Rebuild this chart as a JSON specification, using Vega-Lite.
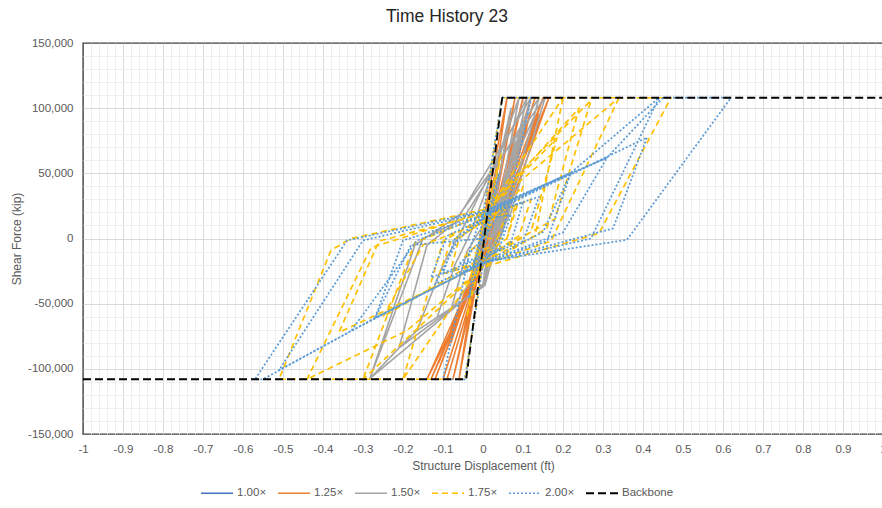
{
  "$schema": "https://vega.github.io/schema/vega-lite/v6.json",
  "width": 800,
  "height": 391,
  "autosize": {"type": "none"},
  "padding": {"left": 83, "top": 43, "right": 0, "bottom": 74},
  "background": "white",
  "title": {
    "text": "Time History 23",
    "font": "Liberation Sans",
    "fontSize": 17.5,
    "fontWeight": "normal",
    "color": "#262626",
    "anchor": "middle",
    "dx": -36,
    "offset": 12
  },
  "config": {
    "font": "Liberation Sans",
    "view": {"stroke": "#404040", "strokeWidth": 1.4}
  },
  "data": {
    "values": [
      {"series": "1.00×", "t": 0, "disp": 0, "force": 0},
      {"series": "1.00×", "t": 1, "disp": 0.01, "force": 12000},
      {"series": "1.00×", "t": 2, "disp": -0.005, "force": -6000},
      {"series": "1.00×", "t": 3, "disp": 0.015, "force": 18000},
      {"series": "1.00×", "t": 4, "disp": -0.01, "force": -14000},
      {"series": "1.00×", "t": 5, "disp": 0.02, "force": 22000},
      {"series": "1.00×", "t": 6, "disp": 0.004, "force": 1000},
      {"series": "1.00×", "t": 7, "disp": -0.015, "force": -20000},
      {"series": "1.00×", "t": 8, "disp": 0, "force": 2000},
      {"series": "1.00×", "t": 9, "disp": 0.012, "force": 15000},
      {"series": "1.00×", "t": 10, "disp": -0.008, "force": -10000},
      {"series": "1.00×", "t": 11, "disp": 0, "force": 0},

      {"series": "1.25×", "t": 0, "disp": 0, "force": 0},
      {"series": "1.25×", "t": 1, "disp": 0.02, "force": 25000},
      {"series": "1.25×", "t": 2, "disp": 0.005, "force": 0},
      {"series": "1.25×", "t": 3, "disp": -0.02, "force": -30000},
      {"series": "1.25×", "t": 4, "disp": -0.005, "force": 2000},
      {"series": "1.25×", "t": 5, "disp": 0.045, "force": 70000},
      {"series": "1.25×", "t": 6, "disp": 0.01, "force": 5000},
      {"series": "1.25×", "t": 7, "disp": -0.04, "force": -65000},
      {"series": "1.25×", "t": 8, "disp": -0.01, "force": -4000},
      {"series": "1.25×", "t": 9, "disp": 0.06, "force": 108000},
      {"series": "1.25×", "t": 10, "disp": 0.015, "force": 12000},
      {"series": "1.25×", "t": 11, "disp": -0.005, "force": -15000},
      {"series": "1.25×", "t": 12, "disp": -0.06, "force": -108000},
      {"series": "1.25×", "t": 13, "disp": -0.01, "force": -10000},
      {"series": "1.25×", "t": 14, "disp": 0.02, "force": 18000},
      {"series": "1.25×", "t": 15, "disp": 0.08, "force": 108000},
      {"series": "1.25×", "t": 16, "disp": 0.02, "force": 8000},
      {"series": "1.25×", "t": 17, "disp": -0.01, "force": -18000},
      {"series": "1.25×", "t": 18, "disp": -0.075, "force": -108000},
      {"series": "1.25×", "t": 19, "disp": 0, "force": -12000},
      {"series": "1.25×", "t": 20, "disp": 0.025, "force": 15000},
      {"series": "1.25×", "t": 21, "disp": 0.1, "force": 108000},
      {"series": "1.25×", "t": 22, "disp": 0.03, "force": 10000},
      {"series": "1.25×", "t": 23, "disp": -0.005, "force": -20000},
      {"series": "1.25×", "t": 24, "disp": -0.09, "force": -108000},
      {"series": "1.25×", "t": 25, "disp": -0.005, "force": -20000},
      {"series": "1.25×", "t": 26, "disp": 0.03, "force": 18000},
      {"series": "1.25×", "t": 27, "disp": 0.12, "force": 108000},
      {"series": "1.25×", "t": 28, "disp": 0.035, "force": 8000},
      {"series": "1.25×", "t": 29, "disp": -0.01, "force": -22000},
      {"series": "1.25×", "t": 30, "disp": -0.1, "force": -108000},
      {"series": "1.25×", "t": 31, "disp": -0.01, "force": -22000},
      {"series": "1.25×", "t": 32, "disp": 0.04, "force": 20000},
      {"series": "1.25×", "t": 33, "disp": 0.13, "force": 108000},
      {"series": "1.25×", "t": 34, "disp": 0.03, "force": 2000},
      {"series": "1.25×", "t": 35, "disp": 0, "force": -15000},
      {"series": "1.25×", "t": 36, "disp": -0.12, "force": -108000},
      {"series": "1.25×", "t": 37, "disp": -0.015, "force": -24000},
      {"series": "1.25×", "t": 38, "disp": 0.035, "force": 15000},
      {"series": "1.25×", "t": 39, "disp": 0.15, "force": 108000},
      {"series": "1.25×", "t": 40, "disp": 0.04, "force": 6000},
      {"series": "1.25×", "t": 41, "disp": 0, "force": -18000},
      {"series": "1.25×", "t": 42, "disp": -0.13, "force": -108000},
      {"series": "1.25×", "t": 43, "disp": -0.01, "force": -20000},
      {"series": "1.25×", "t": 44, "disp": 0.05, "force": 22000},
      {"series": "1.25×", "t": 45, "disp": 0.165, "force": 108000},
      {"series": "1.25×", "t": 46, "disp": 0.05, "force": 10000},
      {"series": "1.25×", "t": 47, "disp": 0.01, "force": -15000},
      {"series": "1.25×", "t": 48, "disp": -0.14, "force": -108000},
      {"series": "1.25×", "t": 49, "disp": -0.015, "force": -22000},
      {"series": "1.25×", "t": 50, "disp": 0.045, "force": 18000},
      {"series": "1.25×", "t": 51, "disp": 0.14, "force": 95000},
      {"series": "1.25×", "t": 52, "disp": 0.04, "force": 5000},
      {"series": "1.25×", "t": 53, "disp": -0.01, "force": -20000},
      {"series": "1.25×", "t": 54, "disp": -0.11, "force": -95000},
      {"series": "1.25×", "t": 55, "disp": -0.02, "force": -20000},
      {"series": "1.25×", "t": 56, "disp": 0.03, "force": 12000},
      {"series": "1.25×", "t": 57, "disp": 0.11, "force": 85000},
      {"series": "1.25×", "t": 58, "disp": 0.03, "force": 3000},
      {"series": "1.25×", "t": 59, "disp": -0.02, "force": -25000},
      {"series": "1.25×", "t": 60, "disp": -0.08, "force": -80000},
      {"series": "1.25×", "t": 61, "disp": -0.01, "force": -10000},
      {"series": "1.25×", "t": 62, "disp": 0, "force": 0},

      {"series": "1.50×", "t": 0, "disp": 0, "force": 0},
      {"series": "1.50×", "t": 1, "disp": 0.03, "force": 35000},
      {"series": "1.50×", "t": 2, "disp": 0.01, "force": 0},
      {"series": "1.50×", "t": 3, "disp": -0.02, "force": -25000},
      {"series": "1.50×", "t": 4, "disp": 0, "force": 5000},
      {"series": "1.50×", "t": 5, "disp": 0.07, "force": 100000},
      {"series": "1.50×", "t": 6, "disp": 0.02, "force": 8000},
      {"series": "1.50×", "t": 7, "disp": 0, "force": -35000},
      {"series": "1.50×", "t": 8, "disp": -0.05, "force": -47600},
      {"series": "1.50×", "t": 9, "disp": -0.115, "force": -60600},
      {"series": "1.50×", "t": 10, "disp": -0.07, "force": -20000},
      {"series": "1.50×", "t": 11, "disp": -0.03, "force": 5000},
      {"series": "1.50×", "t": 12, "disp": 0.09, "force": 108000},
      {"series": "1.50×", "t": 13, "disp": 0.03, "force": 10000},
      {"series": "1.50×", "t": 14, "disp": 0, "force": -36000},
      {"series": "1.50×", "t": 15, "disp": -0.05, "force": -47600},
      {"series": "1.50×", "t": 16, "disp": -0.115, "force": -60600},
      {"series": "1.50×", "t": 17, "disp": -0.165, "force": -70600},
      {"series": "1.50×", "t": 18, "disp": -0.1, "force": -20000},
      {"series": "1.50×", "t": 19, "disp": -0.05, "force": 8000},
      {"series": "1.50×", "t": 20, "disp": 0.11, "force": 108000},
      {"series": "1.50×", "t": 21, "disp": 0.04, "force": 12000},
      {"series": "1.50×", "t": 22, "disp": 0, "force": -37000},
      {"series": "1.50×", "t": 23, "disp": -0.05, "force": -47600},
      {"series": "1.50×", "t": 24, "disp": -0.165, "force": -70600},
      {"series": "1.50×", "t": 25, "disp": -0.21, "force": -84000},
      {"series": "1.50×", "t": 26, "disp": -0.14, "force": -5000},
      {"series": "1.50×", "t": 27, "disp": -0.07, "force": 12000},
      {"series": "1.50×", "t": 28, "disp": 0.12, "force": 108000},
      {"series": "1.50×", "t": 29, "disp": 0.05, "force": 15000},
      {"series": "1.50×", "t": 30, "disp": 0.005, "force": -36000},
      {"series": "1.50×", "t": 31, "disp": -0.05, "force": -47600},
      {"series": "1.50×", "t": 32, "disp": -0.21, "force": -84000},
      {"series": "1.50×", "t": 33, "disp": -0.283, "force": -107500},
      {"series": "1.50×", "t": 34, "disp": -0.15, "force": 0},
      {"series": "1.50×", "t": 35, "disp": -0.05, "force": 15000},
      {"series": "1.50×", "t": 36, "disp": 0.14, "force": 108000},
      {"series": "1.50×", "t": 37, "disp": 0.06, "force": 15000},
      {"series": "1.50×", "t": 38, "disp": 0, "force": -37000},
      {"series": "1.50×", "t": 39, "disp": -0.05, "force": -47600},
      {"series": "1.50×", "t": 40, "disp": -0.283, "force": -107500},
      {"series": "1.50×", "t": 41, "disp": -0.17, "force": -5000},
      {"series": "1.50×", "t": 42, "disp": -0.06, "force": 18000},
      {"series": "1.50×", "t": 43, "disp": 0.155, "force": 108000},
      {"series": "1.50×", "t": 44, "disp": 0.07, "force": 20000},
      {"series": "1.50×", "t": 45, "disp": 0.02, "force": -10000},
      {"series": "1.50×", "t": 46, "disp": -0.08, "force": -55000},
      {"series": "1.50×", "t": 47, "disp": -0.04, "force": -10000},
      {"series": "1.50×", "t": 48, "disp": 0.02, "force": 20000},
      {"series": "1.50×", "t": 49, "disp": 0.13, "force": 95000},
      {"series": "1.50×", "t": 50, "disp": 0.05, "force": 10000},
      {"series": "1.50×", "t": 51, "disp": 0, "force": -20000},
      {"series": "1.50×", "t": 52, "disp": -0.03, "force": -30000},
      {"series": "1.50×", "t": 53, "disp": 0, "force": 0},
      {"series": "1.50×", "t": 54, "disp": 0.04, "force": 30000},
      {"series": "1.50×", "t": 55, "disp": 0.1, "force": 90000},
      {"series": "1.50×", "t": 56, "disp": 0.03, "force": 5000},
      {"series": "1.50×", "t": 57, "disp": 0.08, "force": 75000},
      {"series": "1.50×", "t": 58, "disp": 0.02, "force": 0},
      {"series": "1.50×", "t": 59, "disp": 0.12, "force": 108000},
      {"series": "1.50×", "t": 60, "disp": 0.04, "force": 8000},
      {"series": "1.50×", "t": 61, "disp": -0.02, "force": -20000},
      {"series": "1.50×", "t": 62, "disp": 0, "force": 0},

      {"series": "1.75×", "t": 0, "disp": 0, "force": 0},
      {"series": "1.75×", "t": 1, "disp": 0.03, "force": 28000},
      {"series": "1.75×", "t": 2, "disp": 0, "force": -5000},
      {"series": "1.75×", "t": 3, "disp": -0.03, "force": -28000},
      {"series": "1.75×", "t": 4, "disp": -0.005, "force": 4000},
      {"series": "1.75×", "t": 5, "disp": 0.045, "force": 65000},
      {"series": "1.75×", "t": 6, "disp": 0.01, "force": 6000},
      {"series": "1.75×", "t": 7, "disp": -0.04, "force": -60000},
      {"series": "1.75×", "t": 8, "disp": -0.01, "force": -4000},
      {"series": "1.75×", "t": 9, "disp": 0.048, "force": 108000},
      {"series": "1.75×", "t": 10, "disp": 0.2, "force": 108000},
      {"series": "1.75×", "t": 11, "disp": 0.13, "force": 2000},
      {"series": "1.75×", "t": 12, "disp": 0, "force": -18000},
      {"series": "1.75×", "t": 13, "disp": -0.045, "force": -108000},
      {"series": "1.75×", "t": 14, "disp": -0.2, "force": -108000},
      {"series": "1.75×", "t": 15, "disp": -0.1, "force": -2000},
      {"series": "1.75×", "t": 16, "disp": 0, "force": 16000},
      {"series": "1.75×", "t": 17, "disp": 0.2, "force": 108000},
      {"series": "1.75×", "t": 18, "disp": 0.34, "force": 108000},
      {"series": "1.75×", "t": 19, "disp": 0.17, "force": -2000},
      {"series": "1.75×", "t": 20, "disp": 0, "force": -20000},
      {"series": "1.75×", "t": 21, "disp": -0.36, "force": -72000},
      {"series": "1.75×", "t": 22, "disp": -0.26, "force": -2000},
      {"series": "1.75×", "t": 23, "disp": 0, "force": 19000},
      {"series": "1.75×", "t": 24, "disp": 0.185, "force": 77000},
      {"series": "1.75×", "t": 25, "disp": 0.12, "force": 5000},
      {"series": "1.75×", "t": 26, "disp": 0, "force": -18000},
      {"series": "1.75×", "t": 27, "disp": -0.2, "force": -108000},
      {"series": "1.75×", "t": 28, "disp": -0.3, "force": -108000},
      {"series": "1.75×", "t": 29, "disp": -0.17, "force": -3000},
      {"series": "1.75×", "t": 30, "disp": 0, "force": 18000},
      {"series": "1.75×", "t": 31, "disp": 0.24, "force": 100000},
      {"series": "1.75×", "t": 32, "disp": 0.16, "force": 8000},
      {"series": "1.75×", "t": 33, "disp": 0, "force": -22000},
      {"series": "1.75×", "t": 34, "disp": -0.3, "force": -108000},
      {"series": "1.75×", "t": 35, "disp": -0.44, "force": -108000},
      {"series": "1.75×", "t": 36, "disp": -0.28, "force": -7000},
      {"series": "1.75×", "t": 37, "disp": 0, "force": 20000},
      {"series": "1.75×", "t": 38, "disp": 0.34, "force": 108000},
      {"series": "1.75×", "t": 39, "disp": 0.47, "force": 108000},
      {"series": "1.75×", "t": 40, "disp": 0.29, "force": 4000},
      {"series": "1.75×", "t": 41, "disp": 0, "force": -22000},
      {"series": "1.75×", "t": 42, "disp": -0.19, "force": -70600},
      {"series": "1.75×", "t": 43, "disp": -0.44, "force": -108000},
      {"series": "1.75×", "t": 44, "disp": -0.51, "force": -108000},
      {"series": "1.75×", "t": 45, "disp": -0.38, "force": -9000},
      {"series": "1.75×", "t": 46, "disp": -0.33, "force": 0},
      {"series": "1.75×", "t": 47, "disp": 0, "force": 22000},
      {"series": "1.75×", "t": 48, "disp": 0.27, "force": 106000},
      {"series": "1.75×", "t": 49, "disp": 0.18, "force": 15000},
      {"series": "1.75×", "t": 50, "disp": 0, "force": -15000},
      {"series": "1.75×", "t": 51, "disp": -0.25, "force": -60000},
      {"series": "1.75×", "t": 52, "disp": -0.15, "force": -5000},
      {"series": "1.75×", "t": 53, "disp": 0.02, "force": 15000},
      {"series": "1.75×", "t": 54, "disp": 0.1, "force": 40000},
      {"series": "1.75×", "t": 55, "disp": 0.06, "force": 0},
      {"series": "1.75×", "t": 56, "disp": 0, "force": 0},
      {"series": "1.75×", "t": 57, "disp": 0.04, "force": 22000},
      {"series": "1.75×", "t": 58, "disp": 0.08, "force": 25000},
      {"series": "1.75×", "t": 59, "disp": 0.06, "force": 0},
      {"series": "1.75×", "t": 60, "disp": -0.03, "force": -20000},
      {"series": "1.75×", "t": 61, "disp": -0.08, "force": -24000},
      {"series": "1.75×", "t": 62, "disp": -0.06, "force": 0},
      {"series": "1.75×", "t": 63, "disp": 0.02, "force": 18000},
      {"series": "1.75×", "t": 64, "disp": 0.12, "force": 30000},
      {"series": "1.75×", "t": 65, "disp": 0.09, "force": 2000},
      {"series": "1.75×", "t": 66, "disp": -0.02, "force": -20000},
      {"series": "1.75×", "t": 67, "disp": -0.11, "force": -28000},
      {"series": "1.75×", "t": 68, "disp": -0.08, "force": -2000},
      {"series": "1.75×", "t": 69, "disp": 0, "force": 12000},
      {"series": "1.75×", "t": 70, "disp": 0.06, "force": 20000},
      {"series": "1.75×", "t": 71, "disp": 0.03, "force": -5000},
      {"series": "1.75×", "t": 72, "disp": -0.05, "force": -15000},
      {"series": "1.75×", "t": 73, "disp": 0, "force": 0},

      {"series": "2.00×", "t": 0, "disp": 0, "force": 0},
      {"series": "2.00×", "t": 1, "disp": 0.02, "force": 20000},
      {"series": "2.00×", "t": 2, "disp": -0.005, "force": -3000},
      {"series": "2.00×", "t": 3, "disp": -0.025, "force": -22000},
      {"series": "2.00×", "t": 4, "disp": 0, "force": 5000},
      {"series": "2.00×", "t": 5, "disp": 0.04, "force": 50000},
      {"series": "2.00×", "t": 6, "disp": 0.01, "force": 2000},
      {"series": "2.00×", "t": 7, "disp": -0.035, "force": -45000},
      {"series": "2.00×", "t": 8, "disp": -0.01, "force": -2000},
      {"series": "2.00×", "t": 9, "disp": 0.048, "force": 108000},
      {"series": "2.00×", "t": 10, "disp": 0.12, "force": 108000},
      {"series": "2.00×", "t": 11, "disp": 0.05, "force": 5000},
      {"series": "2.00×", "t": 12, "disp": 0, "force": -20000},
      {"series": "2.00×", "t": 13, "disp": -0.045, "force": -108000},
      {"series": "2.00×", "t": 14, "disp": -0.1, "force": -108000},
      {"series": "2.00×", "t": 15, "disp": -0.03, "force": -5000},
      {"series": "2.00×", "t": 16, "disp": 0, "force": 19000},
      {"series": "2.00×", "t": 17, "disp": 0.22, "force": 50500},
      {"series": "2.00×", "t": 18, "disp": 0.16, "force": -2000},
      {"series": "2.00×", "t": 19, "disp": 0, "force": -19000},
      {"series": "2.00×", "t": 20, "disp": -0.27, "force": -61000},
      {"series": "2.00×", "t": 21, "disp": -0.2, "force": -1500},
      {"series": "2.00×", "t": 22, "disp": 0, "force": 18000},
      {"series": "2.00×", "t": 23, "disp": 0.31, "force": 62000},
      {"series": "2.00×", "t": 24, "disp": 0.2, "force": 4600},
      {"series": "2.00×", "t": 25, "disp": 0, "force": -18600},
      {"series": "2.00×", "t": 26, "disp": -0.33, "force": -71000},
      {"series": "2.00×", "t": 27, "disp": -0.165, "force": -1500},
      {"series": "2.00×", "t": 28, "disp": 0, "force": 17000},
      {"series": "2.00×", "t": 29, "disp": 0.41, "force": 77500},
      {"series": "2.00×", "t": 30, "disp": 0.325, "force": 7700},
      {"series": "2.00×", "t": 31, "disp": 0, "force": -19000},
      {"series": "2.00×", "t": 32, "disp": -0.27, "force": -61000},
      {"series": "2.00×", "t": 33, "disp": -0.51, "force": -101000},
      {"series": "2.00×", "t": 34, "disp": -0.3, "force": -1500},
      {"series": "2.00×", "t": 35, "disp": 0, "force": 20000},
      {"series": "2.00×", "t": 36, "disp": 0.22, "force": 50500},
      {"series": "2.00×", "t": 37, "disp": 0.44, "force": 108000},
      {"series": "2.00×", "t": 38, "disp": 0.27, "force": 0},
      {"series": "2.00×", "t": 39, "disp": 0, "force": -19000},
      {"series": "2.00×", "t": 40, "disp": -0.27, "force": -61000},
      {"series": "2.00×", "t": 41, "disp": -0.55, "force": -108000},
      {"series": "2.00×", "t": 42, "disp": -0.57, "force": -108000},
      {"series": "2.00×", "t": 43, "disp": -0.34, "force": -1500},
      {"series": "2.00×", "t": 44, "disp": 0, "force": 21000},
      {"series": "2.00×", "t": 45, "disp": 0.31, "force": 62000},
      {"series": "2.00×", "t": 46, "disp": 0.45, "force": 108000},
      {"series": "2.00×", "t": 47, "disp": 0.62, "force": 108000},
      {"series": "2.00×", "t": 48, "disp": 0.36, "force": -1000},
      {"series": "2.00×", "t": 49, "disp": 0, "force": -18000},
      {"series": "2.00×", "t": 50, "disp": -0.12, "force": -35000},
      {"series": "2.00×", "t": 51, "disp": -0.06, "force": 0},
      {"series": "2.00×", "t": 52, "disp": 0.02, "force": 20000},
      {"series": "2.00×", "t": 53, "disp": 0.22, "force": 50500},
      {"series": "2.00×", "t": 54, "disp": 0.15, "force": 5000},
      {"series": "2.00×", "t": 55, "disp": 0, "force": -19000},
      {"series": "2.00×", "t": 56, "disp": -0.27, "force": -61000},
      {"series": "2.00×", "t": 57, "disp": -0.18, "force": -5000},
      {"series": "2.00×", "t": 58, "disp": 0, "force": 0},
      {"series": "2.00×", "t": 59, "disp": 0.05, "force": 22000},
      {"series": "2.00×", "t": 60, "disp": 0.1, "force": 28000},
      {"series": "2.00×", "t": 61, "disp": 0.07, "force": -3000},
      {"series": "2.00×", "t": 62, "disp": -0.02, "force": -20000},
      {"series": "2.00×", "t": 63, "disp": -0.1, "force": -27000},
      {"series": "2.00×", "t": 64, "disp": -0.07, "force": 0},
      {"series": "2.00×", "t": 65, "disp": 0.02, "force": 20000},
      {"series": "2.00×", "t": 66, "disp": 0.14, "force": 32000},
      {"series": "2.00×", "t": 67, "disp": 0.1, "force": -2000},
      {"series": "2.00×", "t": 68, "disp": -0.03, "force": -18000},
      {"series": "2.00×", "t": 69, "disp": -0.13, "force": -30000},
      {"series": "2.00×", "t": 70, "disp": -0.09, "force": 2000},
      {"series": "2.00×", "t": 71, "disp": 0, "force": 15000},
      {"series": "2.00×", "t": 72, "disp": 0.07, "force": 18000},
      {"series": "2.00×", "t": 73, "disp": 0.04, "force": -8000},
      {"series": "2.00×", "t": 74, "disp": -0.06, "force": -20000},
      {"series": "2.00×", "t": 75, "disp": 0, "force": 0},

      {"series": "Backbone", "t": 0, "disp": -1, "force": -108000},
      {"series": "Backbone", "t": 1, "disp": -0.042, "force": -108000},
      {"series": "Backbone", "t": 2, "disp": 0.048, "force": 108000},
      {"series": "Backbone", "t": 3, "disp": 1, "force": 108000}
    ]
  },
  "mark": {"type": "line", "clip": true, "strokeJoin": "round"},
  "encoding": {
    "x": {
      "field": "disp",
      "type": "quantitative",
      "scale": {"domain": [-1, 1], "nice": false, "zero": false},
      "axis": {
        "title": "Structure Displacement (ft)",
        "values": [-1, -0.98, -0.96, -0.94, -0.92, -0.9, -0.88, -0.86, -0.84, -0.82, -0.8, -0.78, -0.76, -0.74, -0.72, -0.7, -0.68, -0.66, -0.64, -0.62, -0.6, -0.58, -0.56, -0.54, -0.52, -0.5, -0.48, -0.46, -0.44, -0.42, -0.4, -0.38, -0.36, -0.34, -0.32, -0.3, -0.28, -0.26, -0.24, -0.22, -0.2, -0.18, -0.16, -0.14, -0.12, -0.1, -0.08, -0.06, -0.04, -0.02, 0, 0.02, 0.04, 0.06, 0.08, 0.1, 0.12, 0.14, 0.16, 0.18, 0.2, 0.22, 0.24, 0.26, 0.28, 0.3, 0.32, 0.34, 0.36, 0.38, 0.4, 0.42, 0.44, 0.46, 0.48, 0.5, 0.52, 0.54, 0.56, 0.58, 0.6, 0.62, 0.64, 0.66, 0.68, 0.7, 0.72, 0.74, 0.76, 0.78, 0.8, 0.82, 0.84, 0.86, 0.88, 0.9, 0.92, 0.94, 0.96, 0.98, 1],
        "labelExpr": "abs(datum.value * 10 - round(datum.value * 10)) < 0.001 ? replace(format(datum.value, '.1~f'), '\u2212', '-') : ''",
        "gridColor": {"condition": {"test": "abs(datum.value * 10 - round(datum.value * 10)) < 0.001", "value": "#d9d9d9"}, "value": "#efefef"},
        "gridOpacity": {"condition": {"test": "abs(datum.value) > 0.999", "value": 0}, "value": 1},
        "gridWidth": 1,
        "ticks": false,
        "domain": false,
        "labelFlush": false,
        "labelOverlap": false,
        "labelPadding": 9,
        "labelFontSize": 11.5,
        "labelColor": "#595959",
        "titleFontSize": 12,
        "titleFontWeight": "normal",
        "titleColor": "#595959",
        "titlePadding": 6
      }
    },
    "y": {
      "field": "force",
      "type": "quantitative",
      "scale": {"domain": [-150000, 150000], "nice": false, "zero": false},
      "axis": {
        "title": "Shear Force (kip)",
        "values": [-150000, -140000, -130000, -120000, -110000, -100000, -90000, -80000, -70000, -60000, -50000, -40000, -30000, -20000, -10000, 0, 10000, 20000, 30000, 40000, 50000, 60000, 70000, 80000, 90000, 100000, 110000, 120000, 130000, 140000, 150000],
        "labelExpr": "abs(datum.value % 50000) < 1 ? replace(format(datum.value, ','), '\u2212', '-') : ''",
        "gridColor": {"condition": {"test": "abs(datum.value % 50000) < 1", "value": "#d9d9d9"}, "value": "#efefef"},
        "gridOpacity": {"condition": {"test": "abs(datum.value) > 149999", "value": 0}, "value": 1},
        "gridWidth": 1,
        "ticks": false,
        "domain": false,
        "labelFlush": false,
        "labelOverlap": false,
        "labelPadding": 10,
        "labelFontSize": 11.5,
        "labelColor": "#595959",
        "titleFontSize": 12,
        "titleFontWeight": "normal",
        "titleColor": "#595959",
        "titlePadding": 4
      }
    },
    "order": {"field": "t", "type": "quantitative"},
    "color": {
      "field": "series",
      "type": "nominal",
      "scale": {
        "domain": ["1.00×", "1.25×", "1.50×", "1.75×", "2.00×", "Backbone"],
        "range": ["#4472C4", "#ED7D31", "#A5A5A5", "#FFC000", "#5B9BD5", "#000000"]
      },
      "legend": {
        "title": null,
        "orient": "none",
        "direction": "horizontal",
        "legendX": 117,
        "legendY": 433,
        "symbolType": "stroke",
        "symbolSize": 1024,
        "symbolStrokeWidth": 2,
        "labelFontSize": 11.5,
        "labelColor": "#595959",
        "labelOffset": 3,
        "columnPadding": 7,
        "padding": 0
      }
    },
    "strokeDash": {
      "field": "series",
      "type": "nominal",
      "scale": {
        "domain": ["1.00×", "1.25×", "1.50×", "1.75×", "2.00×", "Backbone"],
        "range": [[1, 0], [1, 0], [1, 0], [6, 4], [2, 2], [8, 4]]
      }
    },
    "strokeWidth": {
      "field": "series",
      "type": "nominal",
      "scale": {
        "domain": ["1.00×", "1.25×", "1.50×", "1.75×", "2.00×", "Backbone"],
        "range": [1.5, 1.8, 1.8, 2, 1.5, 2.5]
      },
      "legend": null
    }
  }
}
